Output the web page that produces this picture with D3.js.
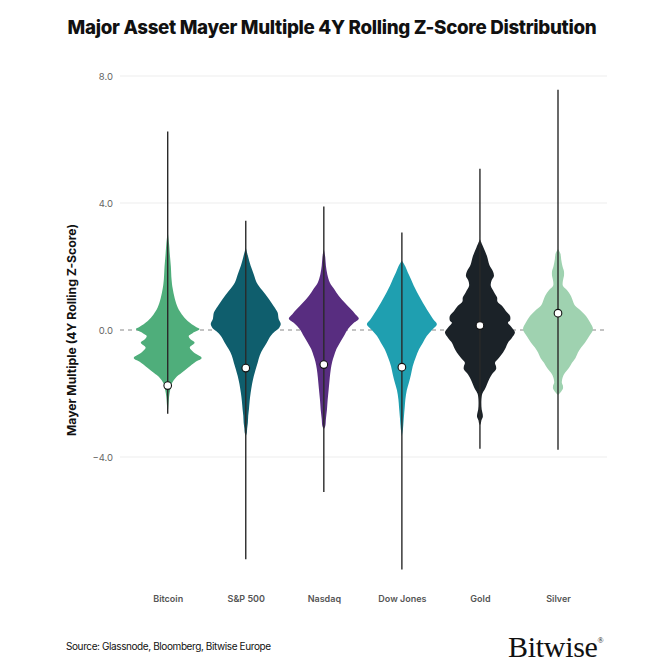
<!DOCTYPE html>
<html><head><meta charset="utf-8">
<script src="https://cdn.jsdelivr.net/npm/d3@7"></script>
<style>
html,body{margin:0;padding:0;background:#fff;}
svg{display:block;}
</style>
</head><body>
<svg id="chart" width="671" height="671"></svg>
<script>
// ---- data ----
const categories = ["Bitcoin","S&P 500","Nasdaq","Dow Jones","Gold","Silver"];
const whiskerMax = [6.25, 3.44, 3.89, 3.07, 5.08, 7.57];
const whiskerMin = [-2.64, -7.22, -5.10, -7.54, -3.74, -3.77];
const markerValues = [-1.75, -1.20, -1.09, -1.17, 0.14, 0.53];
const yTicks = [8, 4, 0, -4];
const colors = ["#4fae7b","#0f5e6d","#582d80","#1f9fb0","#1b2228","#9fd2b0"];

// density profiles: [z-score, relative density]
const btcDensity = [[3.12,0],[2.7,0.04],[2.4,0.06],[2.0,0.09],[1.6,0.11],[1.32,0.14],[1.0,0.2],[0.7,0.29],[0.5,0.4],[0.28,0.57],[0.1,0.8],[0.03,0.91],[-0.1,0.71],[-0.19,0.6],[-0.3,0.66],[-0.4,0.77],[-0.55,0.63],[-0.7,0.74],[-0.88,0.97],[-1.0,0.8],[-1.2,0.57],[-1.35,0.4],[-1.5,0.23],[-1.7,0.11],[-1.9,0.07],[-2.1,0.04],[-2.45,0.015],[-2.6,0]];
const spxDensity = [[2.6,0],[2.3,0.07],[2.02,0.14],[1.75,0.23],[1.5,0.31],[1.25,0.47],[0.98,0.66],[0.75,0.8],[0.55,0.91],[0.35,0.94],[0.19,1.0],[0.05,0.94],[-0.05,0.83],[-0.19,0.71],[-0.4,0.6],[-0.6,0.49],[-0.8,0.4],[-1.03,0.34],[-1.25,0.28],[-1.45,0.23],[-1.7,0.18],[-1.98,0.14],[-2.25,0.11],[-2.5,0.09],[-2.7,0.07],[-2.92,0.06],[-3.1,0.04],[-3.24,0.03],[-3.35,0]];
const ndxDensity = [[2.55,0],[2.3,0.04],[2.02,0.06],[1.75,0.1],[1.5,0.17],[1.3,0.29],[1.07,0.43],[0.86,0.6],[0.66,0.77],[0.5,0.9],[0.36,1.0],[0.2,0.83],[0.03,0.69],[-0.2,0.57],[-0.4,0.46],[-0.6,0.36],[-0.82,0.29],[-1.0,0.24],[-1.23,0.2],[-1.5,0.17],[-1.86,0.14],[-2.2,0.11],[-2.5,0.09],[-2.8,0.06],[-3.03,0.04],[-3.12,0]];
const djiDensity = [[2.18,0],[2.0,0.1],[1.81,0.17],[1.6,0.26],[1.39,0.34],[1.2,0.43],[0.98,0.54],[0.75,0.66],[0.55,0.77],[0.35,0.89],[0.18,1.0],[0.0,0.86],[-0.19,0.71],[-0.4,0.6],[-0.61,0.49],[-0.85,0.4],[-1.14,0.31],[-1.4,0.26],[-1.66,0.2],[-1.9,0.14],[-2.18,0.1],[-2.45,0.08],[-2.71,0.06],[-3.0,0.04],[-3.13,0.03],[-3.34,0]];
const goldDensity = [[2.86,0],[2.6,0.1],[2.33,0.2],[2.05,0.27],[1.85,0.37],[1.7,0.4],[1.55,0.33],[1.39,0.31],[1.2,0.4],[1.02,0.49],[0.9,0.5],[0.76,0.63],[0.6,0.74],[0.44,0.86],[0.3,0.86],[0.23,0.8],[0.08,0.91],[-0.08,1.0],[-0.25,0.91],[-0.4,0.8],[-0.55,0.74],[-0.71,0.66],[-0.88,0.54],[-1.03,0.43],[-1.15,0.46],[-1.24,0.46],[-1.4,0.34],[-1.56,0.26],[-1.72,0.2],[-1.87,0.14],[-2.0,0.07],[-2.1,0.05],[-2.3,0.04],[-2.5,0.05],[-2.65,0.08],[-2.75,0.08],[-2.85,0.04],[-2.92,0.03],[-3.0,0]];
const silverDensity = [[2.55,0],[2.4,0.07],[2.23,0.09],[2.0,0.13],[1.85,0.17],[1.7,0.17],[1.55,0.14],[1.39,0.14],[1.25,0.26],[1.07,0.37],[0.9,0.43],[0.76,0.49],[0.6,0.66],[0.44,0.8],[0.25,0.91],[0.02,1.0],[-0.2,0.89],[-0.4,0.77],[-0.55,0.66],[-0.71,0.57],[-0.88,0.5],[-1.03,0.4],[-1.2,0.31],[-1.35,0.2],[-1.5,0.13],[-1.66,0.11],[-1.75,0.14],[-1.85,0.14],[-1.95,0.08],[-2.05,0]];
const densities = [btcDensity, spxDensity, ndxDensity, djiDensity, goldDensity, silverDensity];

// ---- layout ----
const svg = d3.select("#chart");
const font = "Inter, 'Open Sans', Roboto, sans-serif";

const y = d3.scaleLinear().domain([-4, 8]).range([457, 76]);
const x = d3.scalePoint().domain(categories).range([167.7, 558]);
const w = d3.scaleLinear().domain([0, 1]).range([0, 35]);

// title
svg.append("text").attr("x", 332).attr("y", 34).attr("text-anchor", "middle")
  .attr("font-family", font).attr("font-weight", 800).attr("font-size", 18.8)
  .attr("letter-spacing", "-0.32").attr("fill", "#111")
  .text("Major Asset Mayer Multiple 4Y Rolling Z-Score Distribution");

// grid
const gridX0 = 120, gridX1 = 607;
svg.append("g").selectAll("line").data(yTicks.filter(t => t !== 0)).join("line")
  .attr("x1", gridX0).attr("x2", gridX1)
  .attr("y1", d => y(d)).attr("y2", d => y(d))
  .attr("stroke", "#ededed").attr("stroke-width", 1);
svg.append("line").attr("x1", gridX0).attr("x2", gridX1)
  .attr("y1", y(0)).attr("y2", y(0))
  .attr("stroke", "#888").attr("stroke-width", 1).attr("stroke-dasharray", "4,4");

// y tick labels
const yAxis = d3.axisLeft(y).tickValues(yTicks).tickFormat(d3.format(".1f")).tickSize(0).tickPadding(0);
const gy = svg.append("g").attr("transform", "translate(113,0)").call(yAxis);
gy.select(".domain").remove();
gy.selectAll("text").attr("font-family", font).attr("font-size", 9.5).attr("fill", "#666");

// y axis title
svg.append("text").attr("transform", `translate(76,${y(0)}) rotate(-90)`)
  .attr("text-anchor", "middle").attr("font-family", font).attr("font-weight", 700)
  .attr("font-size", 12.2).attr("fill", "#111")
  .text("Mayer Multiple (4Y Rolling Z-Score)");

// violins
const area = d3.area().curve(d3.curveCatmullRom.alpha(0.5));
const g = svg.append("g");
categories.forEach((c, i) => {
  const cx = x(c);
  area.x0(d => cx - w(d[1])).x1(d => cx + w(d[1])).y(d => y(d[0]));
  g.append("path").datum(densities[i]).attr("d", area)
    .attr("fill", colors[i]).attr("stroke", "none");
});

// whiskers
g.selectAll("line.wh").data(categories).join("line").attr("class", "wh")
  .attr("x1", d => x(d)).attr("x2", d => x(d))
  .attr("y1", (d, i) => y(whiskerMax[i])).attr("y2", (d, i) => y(whiskerMin[i]))
  .attr("stroke", "#2a2a2a").attr("stroke-width", 1.4);

// markers
g.selectAll("circle.mk").data(categories).join("circle").attr("class", "mk")
  .attr("cx", d => x(d)).attr("cy", (d, i) => y(markerValues[i])).attr("r", 3.8)
  .attr("fill", "#fff").attr("stroke", "#111").attr("stroke-width", 1.1);

// x labels
const xAxis = d3.axisBottom(x).tickSize(0).tickPadding(0);
const gx = svg.append("g").attr("transform", "translate(0,596)").call(xAxis);
gx.select(".domain").remove();
gx.selectAll("text").attr("font-family", font).attr("font-weight", 600)
  .attr("font-size", 9).attr("fill", "#555").attr("dy", "0.71em");

// source
svg.append("text").attr("x", 66).attr("y", 650).attr("font-family", font)
  .attr("font-size", 10).attr("letter-spacing", "-0.4").attr("fill", "#111")
  .text("Source: Glassnode, Bloomberg, Bitwise Europe");

// logo
const logo = svg.append("text").attr("x", 508).attr("y", 657)
  .attr("font-family", "'Liberation Serif', 'DejaVu Serif', serif")
  .attr("font-size", 30).attr("fill", "#111").attr("letter-spacing", "-0.3");
logo.append("tspan").text("Bitwise");
logo.append("tspan").attr("font-size", 8).attr("dy", -14).text("®");
</script>
</body></html>
